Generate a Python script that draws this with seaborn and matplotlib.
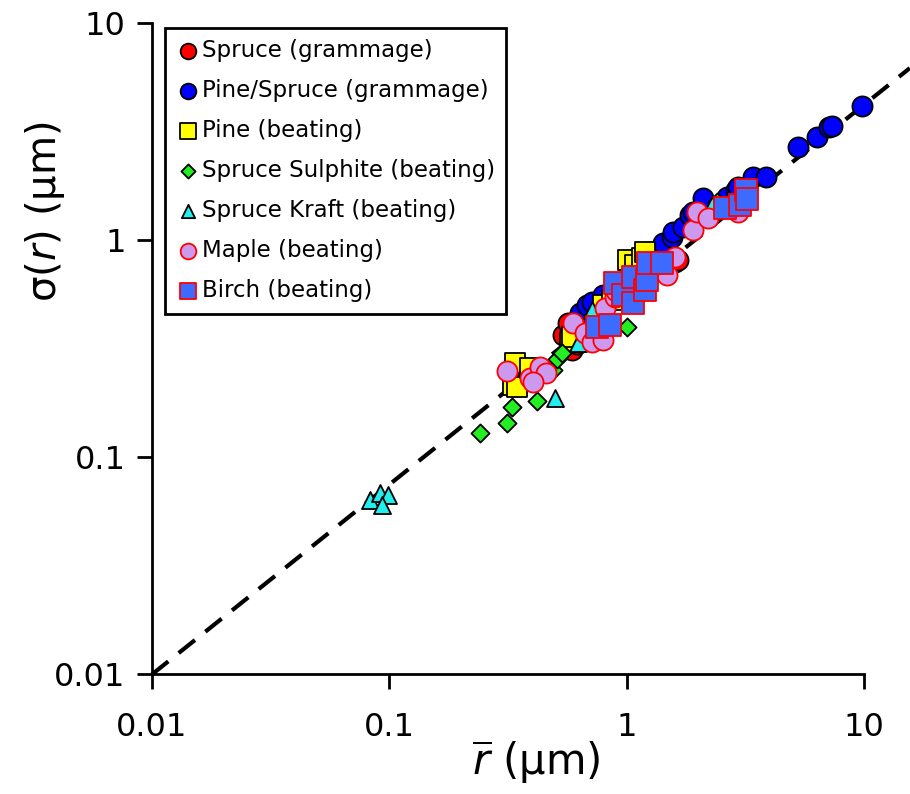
import numpy as np
import pandas as pd
import matplotlib
matplotlib.use("Agg")
import matplotlib.pyplot as plt
import seaborn as sns

# Mean pore radius (um) and standard deviation of pore radius (um) per furnish
spruce_r = [0.54, 0.566, 0.589, 0.62, 0.70, 0.80, 0.95, 1.05, 1.23, 1.60, 1.65, 2.30, 2.70, 3.00]
spruce_s = [0.365, 0.415, 0.311, 0.33, 0.48, 0.52, 0.60, 0.68, 0.88, 0.79, 0.81, 1.40, 1.45, 1.50]

pinespruce_r = [0.636, 0.68, 0.715, 0.796, 1.42, 1.55, 1.57, 1.73, 1.85, 1.91, 2.10, 2.65,
                2.90, 2.95, 3.20, 3.41, 3.87, 5.27, 6.34, 7.10, 7.30, 9.82]
pinespruce_s = [0.461, 0.50, 0.518, 0.558, 0.97, 1.03, 1.09, 1.15, 1.30, 1.35, 1.56, 1.58,
                1.70, 1.75, 1.75, 1.95, 1.95, 2.69, 2.99, 3.30, 3.35, 4.15]

pine_r = [0.332, 0.339, 0.345, 0.392, 0.577, 0.589, 0.796, 0.868, 1.01, 1.08, 1.16, 1.20]
pine_s = [0.215, 0.271, 0.210, 0.257, 0.339, 0.357, 0.501, 0.530, 0.81, 0.77, 0.826, 0.88]

sulphite_r = [0.241, 0.313, 0.329, 0.419, 0.49, 0.509, 0.534, 1.00, 2.40]
sulphite_s = [0.129, 0.144, 0.170, 0.181, 0.252, 0.283, 0.302, 0.397, 1.50]

kraft_r = [0.083, 0.0914, 0.0988, 0.093, 0.499, 0.624, 0.714, 2.29]
kraft_s = [0.0634, 0.0683, 0.0668, 0.060, 0.187, 0.335, 0.475, 1.45]

maple_r = [0.313, 0.392, 0.431, 0.457, 0.404, 0.594, 0.668, 0.715, 0.796, 0.811, 0.893,
           0.90, 1.05, 1.48, 1.60, 1.91, 1.98, 2.20, 2.95]
maple_s = [0.249, 0.231, 0.260, 0.244, 0.222, 0.415, 0.373, 0.339, 0.346, 0.486, 0.546,
           0.58, 0.62, 0.69, 0.836, 1.11, 1.35, 1.26, 1.35]

birch_r = [0.75, 0.851, 0.893, 0.966, 1.06, 1.06, 1.20, 1.22, 1.23, 1.41, 2.60, 3.00, 3.18, 3.22]
birch_s = [0.397, 0.405, 0.634, 0.558, 0.675, 0.513, 0.589, 0.654, 0.783, 0.783, 1.40, 1.45, 1.70, 1.55]

labels = ["Spruce (grammage)", "Pine/Spruce (grammage)", "Pine (beating)",
          "Spruce Sulphite (beating)", "Spruce Kraft (beating)", "Maple (beating)",
          "Birch (beating)"]

# Reference power law drawn as the dashed line
fit_coef = 0.56
fit_exp = 0.875

series = [
    (spruce_r, spruce_s, "o", "#ff0000", "black", 210),
    (pinespruce_r, pinespruce_s, "o", "#0000ff", "black", 210),
    (pine_r, pine_s, "s", "#ffff00", "black", 210),
    (sulphite_r, sulphite_s, "D", "#22ee22", "black", 85),
    (kraft_r, kraft_s, "^", "#22eeee", "black", 150),
    (maple_r, maple_s, "o", "#cc99ee", "#ff0000", 210),
    (birch_r, birch_s, "s", "#3d6bff", "#ff0000", 230),
]

frames = []
for lab, (r, s, *_rest) in zip(labels, series):
    frames.append(pd.DataFrame({"r": r, "sigma": s, "sample": lab}))
df = pd.concat(frames, ignore_index=True)

sns.set_theme(style="ticks", rc={"text.color": "black", "axes.labelcolor": "black",
                                 "xtick.color": "black", "ytick.color": "black"})
plt.rcParams["font.family"] = ["DejaVu Sans"]
plt.rcParams["mathtext.fontset"] = "dejavusans"

fig = plt.figure(figsize=(9.10, 7.94), dpi=100)
ax = fig.add_axes([152 / 910, 1 - 674 / 794, 712 / 910, 651 / 794])

xs = np.logspace(-2, np.log10(15.6), 200)
ax.plot(xs, fit_coef * xs ** fit_exp, ls=(0, (5, 3.2)), color="black", lw=3,
        clip_on=False, zorder=1)

for lab, (r, s, mk, fc, ec, size) in zip(labels, series):
    sub = df[df["sample"] == lab]
    sns.scatterplot(data=sub, x="r", y="sigma", marker=mk, color=fc, edgecolor=ec,
                    linewidth=1.3, s=size, ax=ax, label=lab, zorder=3, clip_on=False)

ax.set_xscale("log")
ax.set_yscale("log")
ax.set_xlim(0.01, 10)
ax.set_ylim(0.01, 10)
ax.set_xticks([0.01, 0.1, 1, 10])
ax.set_xticklabels(["0.01", "0.1", "1", "10"])
ax.set_yticks([0.01, 0.1, 1, 10])
ax.set_yticklabels(["0.01", "0.1", "1", "10"])
ax.minorticks_off()

for side in ["top", "right"]:
    ax.spines[side].set_visible(False)
for side in ["left", "bottom"]:
    ax.spines[side].set_linewidth(2)
    ax.spines[side].set_color("black")
ax.tick_params(axis="both", which="major", direction="out", length=11, width=2,
               labelsize=23, colors="black", pad=8)
ax.tick_params(axis="x", pad=16)

ax.set_xlabel(r"$\overline{r}$ (μm)", fontsize=30, color="black")
ax.set_ylabel(r"σ($r$) (μm)", fontsize=29, color="black")
ax.xaxis.set_label_coords(0.54, -0.1)
ax.yaxis.set_label_coords(-0.12, 0.71)

leg = ax.legend(loc="upper left", bbox_to_anchor=(165 / 910, 1 - 28 / 794),
                bbox_transform=fig.transFigure, fontsize=16.5, frameon=True,
                fancybox=False, edgecolor="black", framealpha=1, markerscale=0.78,
                handletextpad=0.1, labelspacing=0.74, borderpad=0.5,
                handlelength=1.0, borderaxespad=0)
leg.get_frame().set_linewidth(2)
for t in leg.get_texts():
    t.set_color("black")

fig.savefig("out.png", dpi=100)
